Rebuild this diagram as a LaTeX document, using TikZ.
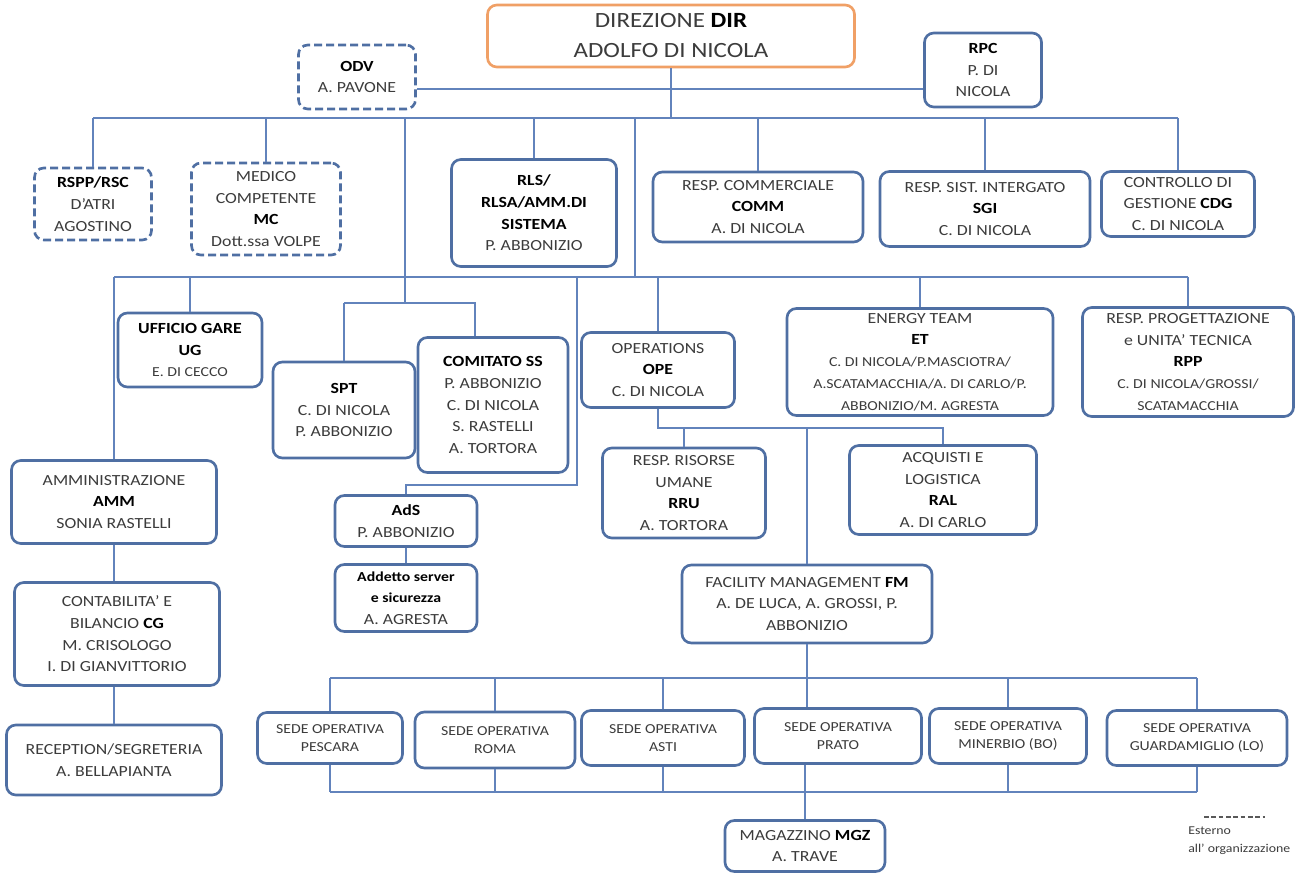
\documentclass[tikz,border=0pt]{standalone}
\usepackage{fontspec}
\setmainfont{Carlito}[FakeStretch=1.15]
\definecolor{boxblue}{HTML}{4F6FA3}
\definecolor{linkblue}{HTML}{6283BC}
\definecolor{dirorange}{HTML}{F0A066}
\definecolor{txtgrey}{HTML}{3C3C3C}
\newcommand{\sigla}[1]{\textbf{\color{black}#1}}
\newcommand{\piccolo}{\fontsize{10.3}{14}\selectfont}

\begin{document}
\begin{tikzpicture}[x=0.75pt,y=-0.75pt,
	unit/.style={draw=boxblue, line width=2pt, rounded corners=7pt, fill=white, align=center, inner sep=1pt, text=txtgrey, font=\fontsize{11.6}{16.3}\selectfont},
	external/.style={unit, dash pattern=on 6pt off 3pt},
	sede/.style={unit, font=\fontsize{10.3}{13.5}\selectfont},
	boxsize/.style 2 args={minimum width=#1*0.75pt, minimum height=#2*0.75pt},
	link/.style={draw=linkblue, line width=1pt}]
	\useasboundingbox (0,0) rectangle (1303,873);

	% vertici
	\node[unit, draw=dirorange, boxsize={367}{62}, font=\fontsize{16.3}{22.5}\selectfont] (dir) at (671,36) {DIREZIONE \sigla{DIR}\\ADOLFO DI NICOLA};
	\node[external, boxsize={117}{64}] (odv) at (357,77) {\sigla{ODV}\\A. PAVONE};
	\node[unit, boxsize={117}{74}] (rpc) at (983,70) {\sigla{RPC}\\P. DI\\NICOLA};

	% primo livello
	\node[external, boxsize={117}{72}] (rspp) at (93,204) {\sigla{RSPP/RSC}\\D’ATRI\\AGOSTINO};
	\node[external, boxsize={149}{92}] (medico) at (266,209) {MEDICO\\COMPETENTE\\\sigla{MC}\\Dott.ssa VOLPE};
	\node[unit, boxsize={165}{107}] (rls) at (534,213) {\sigla{RLS/}\\\sigla{RLSA/AMM.DI}\\\sigla{SISTEMA}\\P. ABBONIZIO};
	\node[unit, boxsize={210}{70}] (comm) at (758,207) {RESP. COMMERCIALE\\\sigla{COMM}\\A. DI NICOLA};
	\node[unit, boxsize={210}{75}] (sgi) at (985,209) {RESP. SIST. INTERGATO\\\sigla{SGI}\\C. DI NICOLA};
	\node[unit, boxsize={153}{65}] (cdg) at (1178,204) {CONTROLLO DI\\GESTIONE \sigla{CDG}\\C. DI NICOLA};

	% secondo livello
	\node[unit, boxsize={144}{74}] (ug) at (190,350) {\sigla{UFFICIO GARE}\\\sigla{UG}\\{\piccolo E. DI CECCO}};
	\node[unit, boxsize={142}{96}] (spt) at (344,410) {\sigla{SPT}\\C. DI NICOLA\\P. ABBONIZIO};
	\node[unit, boxsize={150}{135}] (comitato) at (493,405) {\sigla{COMITATO SS}\\P. ABBONIZIO\\C. DI NICOLA\\S. RASTELLI\\A. TORTORA};
	\node[unit, boxsize={153}{75}] (ope) at (658,370) {OPERATIONS\\\sigla{OPE}\\C. DI NICOLA};
	\node[unit, boxsize={266}{107}] (et) at (920,362) {ENERGY TEAM\\\sigla{ET}\\{\piccolo C. DI NICOLA/P.MASCIOTRA/}\\{\piccolo A.SCATAMACCHIA/A. DI CARLO/P.}\\{\piccolo ABBONIZIO/M. AGRESTA}};
	\node[unit, boxsize={211}{109}] (rpp) at (1188,362) {RESP. PROGETTAZIONE\\e UNITA’ TECNICA\\\sigla{RPP}\\{\piccolo C. DI NICOLA/GROSSI/}\\{\piccolo SCATAMACCHIA}};

	% terzo livello
	\node[unit, boxsize={205}{83}] (amm) at (114,502) {AMMINISTRAZIONE\\\sigla{AMM}\\SONIA RASTELLI};
	\node[unit, boxsize={205}{103}] (cg) at (117,634) {CONTABILITA’ E\\BILANCIO \sigla{CG}\\M. CRISOLOGO\\I. DI GIANVITTORIO};
	\node[unit, boxsize={215}{70}] (reception) at (114,760) {RECEPTION/SEGRETERIA\\A. BELLAPIANTA};
	\node[unit, boxsize={142}{51}] (ads) at (406,521) {\sigla{AdS}\\P. ABBONIZIO};
	\node[unit, boxsize={142}{67}] (addetto) at (406,598) {\sigla{\piccolo Addetto server}\\\sigla{\piccolo e sicurezza}\\A. AGRESTA};
	\node[unit, boxsize={163}{90}] (rru) at (684,493) {RESP. RISORSE\\UMANE\\\sigla{RRU}\\A. TORTORA};
	\node[unit, boxsize={187}{89}] (ral) at (943,490) {ACQUISTI E\\LOGISTICA\\\sigla{RAL}\\A. DI CARLO};
	\node[unit, boxsize={250}{78}] (fm) at (807,604) {FACILITY MANAGEMENT \sigla{FM}\\A. DE LUCA, A. GROSSI, P.\\ABBONIZIO};

	% sedi
	\node[sede, boxsize={145}{51}] (pescara) at (330,738) {SEDE OPERATIVA\\PESCARA};
	\node[sede, boxsize={160}{56}] (roma) at (495,740) {SEDE OPERATIVA\\ROMA};
	\node[sede, boxsize={163}{55}] (asti) at (663,738) {SEDE OPERATIVA\\ASTI};
	\node[sede, boxsize={167}{55}] (prato) at (838,736) {SEDE OPERATIVA\\PRATO};
	\node[sede, boxsize={157}{55}] (minerbio) at (1008,736) {SEDE OPERATIVA\\MINERBIO (BO)};
	\node[sede, boxsize={180}{55}] (guardamiglio) at (1197,738) {SEDE OPERATIVA\\GUARDAMIGLIO (LO)};
	\node[unit, boxsize={160}{51}] (mgz) at (805,846) {MAGAZZINO \sigla{MGZ}\\A. TRAVE};

	% legenda
	\coordinate (legA) at (1204,817);
	\coordinate (legB) at (1265,817);
	\draw[draw=txtgrey!85, dash pattern=on 3.5pt off 2pt, line width=0.9pt] (legA) -- (legB);
	\node[anchor=north west, align=left, inner sep=0pt, font=\fontsize{9}{13.5}\selectfont, text=txtgrey] (legenda) at (1188,827) {Esterno\\all’ organizzazione};

	% linee di collegamento
	\coordinate (staff) at (0,89);
	\coordinate (busT) at (0,118);
	\coordinate (busM) at (0,277);
	\coordinate (busS) at (0,303);
	\coordinate (busO) at (0,428);
	\coordinate (busA) at (0,485);
	\coordinate (busU) at (0,678);
	\coordinate (busB) at (0,792);
	\coordinate (dropS) at (405,0);
	\coordinate (dropC) at (475,0);
	\coordinate (dropA) at (577,0);
	\coordinate (dropM) at (635,0);

	\draw[link] (odv.east |- staff) -- (rpc.west |- staff);
	\draw[link] (dir) -- (dir.south |- busT);
	\draw[link] (rspp.north |- busT) -- (cdg.north |- busT);
	\foreach \n in {rspp,medico,rls,comm,sgi,cdg}
		\draw[link] (\n.north |- busT) -- (\n);

	\draw[link] (dropS |- busT) -- (dropS |- busS);
	\draw[link] (spt.north |- busS) -- (dropC |- busS) -- (dropC |- comitato.north);
	\draw[link] (spt.north |- busS) -- (spt);

	\draw[link] (dropM |- busT) -- (dropM |- busM);
	\draw[link] (amm.north |- busM) -- (rpp.north |- busM);
	\foreach \n in {amm,ug,ope,et,rpp}
		\draw[link] (\n.north |- busM) -- (\n);
	\draw[link] (dropA |- busM) |- (ads.north |- busA) -- (ads);
	\draw[link] (ads) -- (addetto);

	\draw[link] (amm) -- (amm.south |- cg.north);
	\draw[link] (amm.south |- cg.south) -- (amm.south |- reception.north);

	\draw[link] (ope) -- (ope.south |- busO) -- (ral.north |- busO) -- (ral);
	\draw[link] (rru.north |- busO) -- (rru);
	\draw[link] (fm.north |- busO) -- (fm);

	\draw[link] (fm) -- (fm.south |- prato.north);
	\draw[link] (pescara.north |- busU) -- (guardamiglio.north |- busU);
	\draw[link] (pescara.south |- busB) -- (guardamiglio.south |- busB);
	\foreach \n in {pescara,roma,asti,minerbio,guardamiglio} {
		\draw[link] (\n.north |- busU) -- (\n);
		\draw[link] (\n) -- (\n.south |- busB);
	}
	\draw[link] (prato.south -| mgz.north) -- (mgz);
\end{tikzpicture}
\end{document}
